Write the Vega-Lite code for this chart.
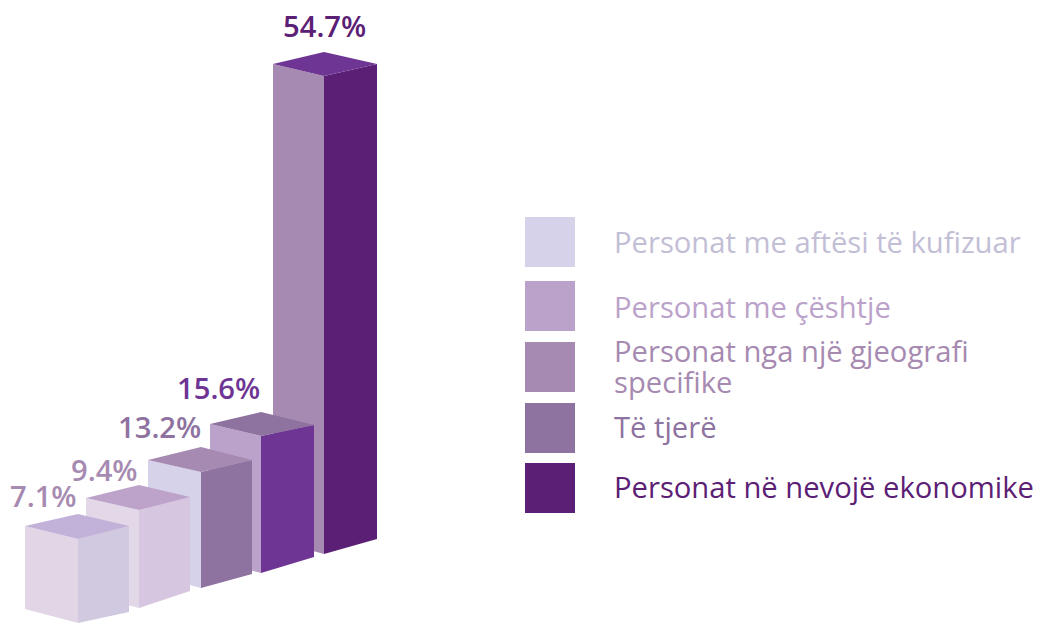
{
"$schema":"https://vega.github.io/schema/vega-lite/v6.json",
"width":1037,"height":623,"padding":0,
"autosize":{"type":"fit","contains":"padding"},
"background":"white",
"view":{"stroke":null},
"datasets":{
"faces":[
{"series":"b5 left","x":273,"y":559,"y2":83},{"series":"b5 left","x":324,"y":547,"y2":69},
{"series":"b5 right","x":324,"y":547,"y2":69},{"series":"b5 right","x":377,"y":559,"y2":84},
{"series":"b5 top","x":273,"y":559,"y2":559},{"series":"b5 top","x":324,"y":571,"y2":547},{"series":"b5 top","x":377,"y":559,"y2":559},
{"series":"b4 left","x":210,"y":199,"y2":63},{"series":"b4 left","x":261,"y":187,"y2":50},
{"series":"b4 right","x":261,"y":187,"y2":50},{"series":"b4 right","x":314,"y":198,"y2":66},
{"series":"b4 top","x":210,"y":199,"y2":199},{"series":"b4 top","x":261,"y":211,"y2":187},{"series":"b4 top","x":314,"y":198,"y2":198},
{"series":"b3 left","x":148,"y":163,"y2":49},{"series":"b3 left","x":201,"y":151,"y2":35},
{"series":"b3 right","x":201,"y":151,"y2":35},{"series":"b3 right","x":252,"y":163,"y2":49},
{"series":"b3 top","x":148,"y":163,"y2":163},{"series":"b3 top","x":201,"y":176,"y2":151},{"series":"b3 top","x":252,"y":163,"y2":163},
{"series":"b2 left","x":86,"y":125,"y2":29},{"series":"b2 left","x":139,"y":113,"y2":15},
{"series":"b2 right","x":139,"y":113,"y2":15},{"series":"b2 right","x":190,"y":126,"y2":32},
{"series":"b2 top","x":86,"y":125,"y2":125},{"series":"b2 top","x":139,"y":138,"y2":113},{"series":"b2 top","x":190,"y":126,"y2":126},
{"series":"b1 left","x":25,"y":97,"y2":14},{"series":"b1 left","x":78,"y":84,"y2":0},
{"series":"b1 right","x":78,"y":84,"y2":0},{"series":"b1 right","x":129,"y":97,"y2":11},
{"series":"b1 top","x":25,"y":97,"y2":97},{"series":"b1 top","x":78,"y":109,"y2":84},{"series":"b1 top","x":129,"y":97,"y2":97}
],
"labels":[
{"series":"v1","label":"7.1%","x":10,"y":116},
{"series":"v2","label":"9.4%","x":71,"y":142},
{"series":"v3","label":"13.2%","x":118,"y":185},
{"series":"v4","label":"15.6%","x":177,"y":224},
{"series":"v5","label":"54.7%","x":283,"y":586}
],
"legend":[
{"series":"k1","sx":525,"sx2":575,"y":406,"y2":356},
{"series":"k2","sx":525,"sx2":575,"y":342,"y2":292},
{"series":"k3","sx":525,"sx2":575,"y":281,"y2":231},
{"series":"k4","sx":525,"sx2":575,"y":220,"y2":170},
{"series":"k5","sx":525,"sx2":575,"y":160,"y2":110}
],
"legendText":[
{"series":"t1","name":"Personat me aftësi të kufizuar","tx":614,"ty":370},
{"series":"t2","name":"Personat me çështje","tx":614,"ty":305},
{"series":"t3","name":"Personat nga një gjeografi\nspecifike","tx":614,"ty":261},
{"series":"t4","name":"Të tjerë","tx":614,"ty":185},
{"series":"t5","name":"Personat në nevojë ekonomike","tx":614,"ty":125}
]
},
"resolve":{"scale":{"color":"shared"}},
"layer":[
{"data":{"name":"faces"},
 "mark":{"type":"area","clip":false,"interpolate":"linear"},
 "encoding":{
  "x":{"field":"x","type":"quantitative","scale":{"domain":[0,1037],"nice":false,"zero":false},"axis":null},
  "y":{"field":"y","type":"quantitative","scale":{"domain":[0,623],"nice":false,"zero":false},"axis":null,"stack":null},
  "y2":{"field":"y2"},
  "color":{"field":"series","type":"nominal","legend":null,"sort":null,
   "scale":{"domain":["b5 left","b5 right","b5 top","b4 left","b4 right","b4 top","b3 left","b3 right","b3 top","b2 left","b2 right","b2 top","b1 left","b1 right","b1 top","v1","v2","v3","v4","v5","k1","k2","k3","k4","k5","t1","t2","t3","t4","t5"],
   "range":["#a68ab1","#5b2075","#6e3594","#bba2ca","#6e3594","#8e729f","#d6d2e9","#8e729f","#a68ab1","#e2d8e7","#d7c6df","#bda3ca","#e2d6e6","#d0c9e0","#c2b1d8","#a68ab1","#a68ab1","#8e729f","#6e3594","#5b2075","#d6d2e9","#bba2ca","#a68ab1","#8e729f","#5b2075","#c2bed6","#bba2ca","#a68ab1","#8e729f","#5b2075"]}}
 }},
{"data":{"name":"legend"},
 "mark":{"type":"rect"},
 "encoding":{
  "x":{"field":"sx","type":"quantitative","axis":null},
  "x2":{"field":"sx2"},
  "y":{"field":"y","type":"quantitative","axis":null},
  "y2":{"field":"y2"},
  "color":{"field":"series","type":"nominal","legend":null}
 }},
{"data":{"name":"labels"},
 "mark":{"type":"text","font":"Open Sans","fontSize":29.2,"fontWeight":600,"align":"left","baseline":"alphabetic"},
 "encoding":{
  "x":{"field":"x","type":"quantitative","axis":null},
  "y":{"field":"y","type":"quantitative","axis":null},
  "text":{"field":"label"},
  "color":{"field":"series","type":"nominal","legend":null}
 }},
{"data":{"name":"legendText"},
 "mark":{"type":"text","font":"Open Sans","fontSize":29.2,"align":"left","baseline":"alphabetic","lineBreak":"\n","lineHeight":31},
 "encoding":{
  "x":{"field":"tx","type":"quantitative","axis":null},
  "y":{"field":"ty","type":"quantitative","axis":null},
  "text":{"field":"name"},
  "color":{"field":"series","type":"nominal","legend":null}
 }}
]
}
